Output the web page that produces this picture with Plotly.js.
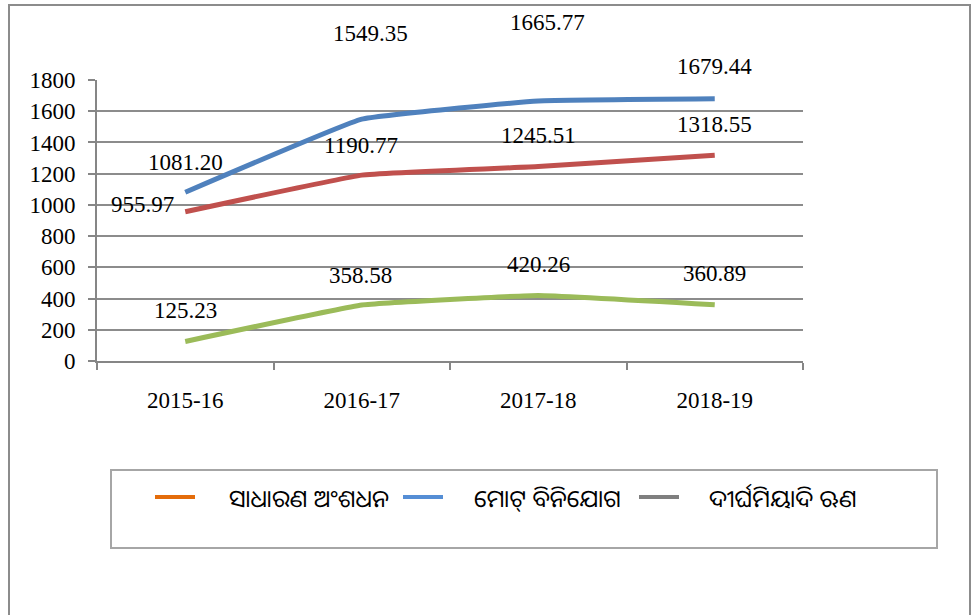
<!DOCTYPE html>
<html>
<head>
<meta charset="utf-8">
<script src="https://cdn.plot.ly/plotly-3.0.1.min.js"></script>
<style>html,body{margin:0;padding:0;background:#fff;}#chart{width:972px;height:615px;}</style>
</head>
<body>
<div id="chart"></div>
<script>
// ---- data ----
var categories = ["2015-16", "2016-17", "2017-18", "2018-19"];
var generalCapital = [955.97, 1190.77, 1245.51, 1318.55];   // ସାଧାରଣ ଅଂଶଧନ
var totalInvestment = [1081.20, 1549.35, 1665.77, 1679.44]; // ମୋଟ୍ ବିନିଯୋଗ
var longTermLoan = [125.23, 358.58, 420.26, 360.89];        // ଦୀର୍ଘମିୟାଦି ଋଣ
var seriesNames = ["ସାଧାରଣ ଅଂଶଧନ", "ମୋଟ୍ ବିନିଯୋଗ", "ଦୀର୍ଘମିୟାଦି ଋଣ"];
var yTicks = [0, 200, 400, 600, 800, 1000, 1200, 1400, 1600, 1800];

// ---- styles ----
var lineColors = ["#C0504D", "#4F81BD", "#9BBB59"];
var legendColors = ["#E46C0A", "#558ED5", "#7F7F7F"];
var serif = "Liberation Serif, Times New Roman, serif";
var odia = "Noto Sans Oriya, Noto Sans, DejaVu Sans, sans-serif";
// label offsets in pixels [dx, dy] per series/point
var redOff = [[-43, 7], [-1, 30], [0, 31], [0, 31]];
var blueOff = [[0, 30], [9, 86], [9, 78], [0, 32]];
var greenOff = [[0, 31], [-1, 30], [0, 31], [0, 31]];
// legend key positions (px): dash start, text start
var legendDashX = [155, 403, 639];
var legendTextX = [227, 472, 707];
var legendY = 497;

var series = [generalCapital, totalInvestment, longTermLoan];
var offs = [redOff, blueOff, greenOff];

var traces = [];
series.forEach(function (vals, i) {
  traces.push({
    x: categories, y: vals, type: "scatter", mode: "lines", name: seriesNames[i],
    line: {color: lineColors[i], width: 5, shape: "spline", smoothing: 0.25},
    showlegend: false, hoverinfo: "skip"
  });
});

var W = 706, H = 281; // plot area in px
function px(x) { return (x - 97) / W; }
function py(y) { return (361 - y) / H; }

var annotations = [];
series.forEach(function (vals, i) {
  vals.forEach(function (v, j) {
    annotations.push({
      x: categories[j], y: v, xref: "x", yref: "y",
      text: v.toFixed(2), showarrow: false,
      xshift: offs[i][j][0], yshift: offs[i][j][1],
      font: {family: serif, size: 23, color: "#000"}
    });
  });
});

var shapes = [
  {type: "rect", xref: "paper", yref: "paper", x0: px(9), x1: px(970), y0: py(640), y1: py(5),
   line: {color: "#8c8c8c", width: 2}, fillcolor: "rgba(0,0,0,0)", layer: "below"},
  {type: "rect", xref: "paper", yref: "paper", x0: px(111), x1: px(937), y0: py(548), y1: py(470),
   line: {color: "#a6a6a6", width: 2}, fillcolor: "rgba(0,0,0,0)", layer: "below"}
];
seriesNames.forEach(function (nm, i) {
  shapes.push({type: "line", xref: "paper", yref: "paper",
    x0: px(legendDashX[i]), x1: px(legendDashX[i] + 40), y0: py(legendY), y1: py(legendY),
    line: {color: legendColors[i], width: 4}});
  annotations.push({xref: "paper", yref: "paper", x: px(legendTextX[i]), y: py(legendY),
    xanchor: "left", yanchor: "middle", text: nm, showarrow: false,
    font: {family: odia, size: 24, color: "#000"}});
});

var layout = {
  width: 972, height: 615,
  margin: {l: 97, r: 169, t: 80, b: 254},
  paper_bgcolor: "#fff", plot_bgcolor: "#fff",
  showlegend: false,
  xaxis: {
    type: "category", range: [-0.5, 3.5], tickson: "boundaries",
    showgrid: false, showline: true, linecolor: "#868686", linewidth: 2,
    ticks: "outside", ticklen: 7, tickwidth: 2, tickcolor: "#868686",
    ticklabelstandoff: 17,
    tickfont: {family: serif, size: 23, color: "#000"}, zeroline: false
  },
  yaxis: {
    range: [0, 1800], tickvals: yTicks, ticktext: yTicks.map(String),
    showgrid: true, gridcolor: "#8c8c8c", gridwidth: 2,
    showline: true, linecolor: "#868686", linewidth: 2,
    ticks: "outside", ticklen: 7, tickwidth: 2, tickcolor: "#868686",
    ticklabelstandoff: 8,
    tickfont: {family: serif, size: 23, color: "#000"}, zeroline: false
  },
  annotations: annotations,
  shapes: shapes
};

Plotly.newPlot("chart", traces, layout, {displayModeBar: false, staticPlot: true});
</script>
</body>
</html>
